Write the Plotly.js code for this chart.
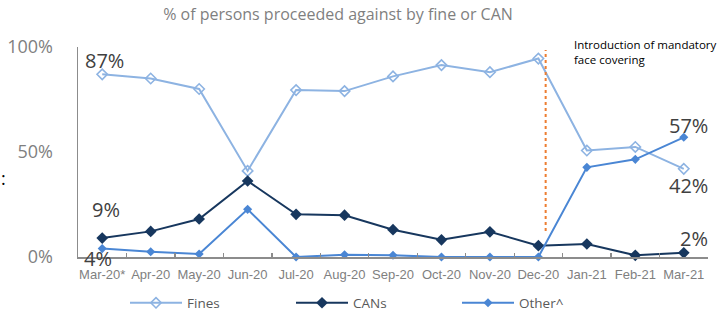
<!DOCTYPE html>
<html>
<head>
<meta charset="utf-8">
<script src="https://cdn.plot.ly/plotly-3.0.1.min.js"></script>
<style>html,body{margin:0;padding:0;background:#fff;}#chart{width:726px;height:314px;}</style>
</head>
<body>
<div id="chart"></div>
<script>
const months = ["Mar-20*","Apr-20","May-20","Jun-20","Jul-20","Aug-20","Sep-20","Oct-20","Nov-20","Dec-20","Jan-21","Feb-21","Mar-21"];
const fines  = [87, 85, 80, 41, 79.5, 79, 86, 91.4, 88, 94.5, 50.7, 52.4, 42];
const cans   = [9, 12.2, 18.1, 36.2, 20.3, 19.9, 13, 8.2, 12, 5.4, 6.2, 0.8, 2];
const other  = [4, 2.5, 1.4, 22.7, 0, 1.1, 0.8, 0, 0, 0, 42.7, 46.5, 57];
const seriesNames = ["Fines", "CANs", "Other^"];
const yTickVals = [0, 50, 100];
const yTickText = ["0%", "50%", "100%"];

const FONT = "Open Sans, sans-serif";
const GRAY = "#7f7f7f";
const AXIS = "#8c8c8c";

const traces = [
  {x: months, y: fines, name: seriesNames[0], type: "scatter", mode: "lines+markers", cliponaxis: false,
   line: {color: "#8db3e2", width: 2},
   marker: {symbol: "diamond-open", size: 8, color: "#8db3e2", line: {width: 1.6, color: "#8db3e2"}}},
  {x: months, y: cans, name: seriesNames[1], type: "scatter", mode: "lines+markers", cliponaxis: false,
   line: {color: "#17375e", width: 2},
   marker: {symbol: "diamond", size: 9, color: "#17375e"}},
  {x: months, y: other, name: seriesNames[2], type: "scatter", mode: "lines+markers", cliponaxis: false,
   line: {color: "#4a86d4", width: 2},
   marker: {symbol: "diamond", size: 7, color: "#4a86d4"}}
];

const last = months.length - 1;
function lab(i, arr, dx, dy) {
  return {x: months[i], y: arr[i], xref: "x", yref: "y", text: Math.round(arr[i]) + "%",
          showarrow: false, xshift: dx, yshift: dy,
          font: {family: FONT, size: 20, color: "#404040"}};
}

const annotations = [
  lab(0, fines, 2, 14),
  lab(0, cans, 4, 29),
  lab(0, other, -4, -10),
  lab(last, other, 5, 12),
  lab(last, fines, 5, -17),
  lab(last, cans, 10, 14),
  {x: (572 - 78) / 630, y: (257 - 52) / 210, xref: "paper", yref: "paper", xanchor: "left", yanchor: "middle",
   text: "Introduction of mandatory<br>face covering", showarrow: false, align: "left",
   font: {family: FONT, size: 11.5, color: "#000"}},
  {x: (3 - 78) / 630, y: (257 - 178) / 210, xref: "paper", yref: "paper", xanchor: "center", yanchor: "middle",
   text: ":", showarrow: false, font: {family: FONT, size: 18, color: "#000"}}
];

const layout = {
  width: 726, height: 314,
  margin: {l: 78, r: 18, t: 47, b: 57},
  paper_bgcolor: "#fff", plot_bgcolor: "#fff",
  title: {text: "% of persons proceeded against by fine or CAN", x: 338/726, xanchor: "center",
          y: 1 - 14/314, yanchor: "middle", xref: "container", yref: "container",
          font: {family: FONT, size: 16, color: GRAY}},
  xaxis: {type: "category", range: [-0.5, 12.5], showgrid: false, zeroline: false,
          showline: true, linecolor: AXIS, linewidth: 1.5, tickangle: 0,
          ticks: "inside", ticklen: 4, tickcolor: AXIS, tickwidth: 1.3, tickson: "boundaries",
          ticklabelstandoff: 5,
          tickfont: {family: "Liberation Sans, Arial, sans-serif", size: 13, color: GRAY}},
  xaxis2: {overlaying: "x", anchor: "y", range: [-0.5, 12.5], tick0: -0.5, dtick: 1,
           showgrid: false, zeroline: false, showline: false, showticklabels: false,
           ticks: "outside", ticklen: 3, tickcolor: AXIS, tickwidth: 1.3},
  yaxis: {range: [0, 100], tickmode: "array", tickvals: yTickVals, ticktext: yTickText,
          showgrid: false, zeroline: false,
          showline: true, linecolor: AXIS, linewidth: 1.5, ticks: "",
          ticklabelstandoff: 20,
          tickfont: {family: FONT, size: 18, color: GRAY}},
  showlegend: true,
  legend: {orientation: "h", xref: "container", yref: "container", x: 125/726, xanchor: "left",
           y: 1 - 303/314, yanchor: "middle", itemwidth: 52, entrywidth: 99, entrywidthmode: "pixels",
           font: {family: FONT, size: 13.5, color: "#595959"}},
  shapes: [
    {type: "line", xref: "x", yref: "y", x0: 9.15, x1: 9.15, y0: 12.4, y1: 98.6,
     line: {color: "#ed7d31", width: 2, dash: "dot"}}
  ],
  annotations: annotations
};

Plotly.newPlot("chart", traces, layout, {displayModeBar: false, staticPlot: true});
</script>
</body>
</html>
